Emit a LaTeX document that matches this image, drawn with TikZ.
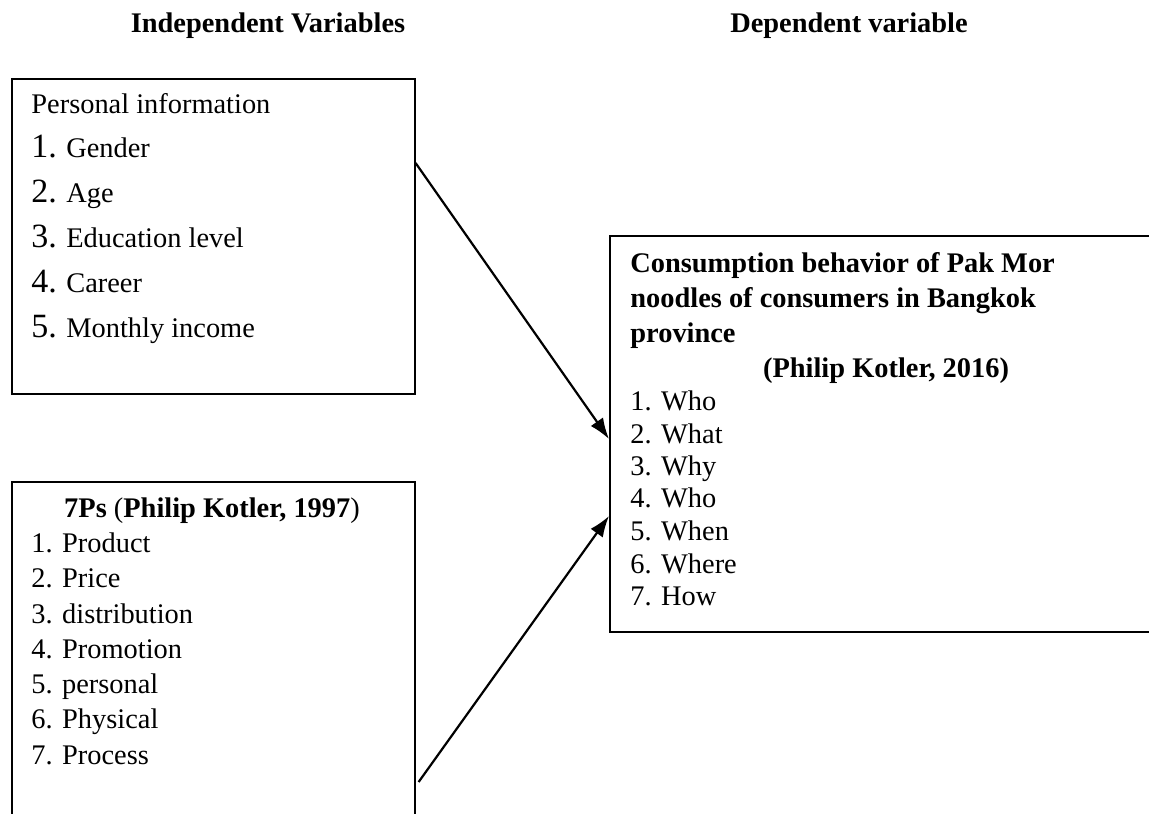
\documentclass[tikz,border=0pt]{standalone}
\usepackage{fontspec}
\setmainfont{Liberation Serif}
\usetikzlibrary{arrows.meta}
\tikzset{
	box/.style={draw,line width=0.8pt,inner sep=0pt,anchor=north west},
	txt/.style={anchor=base west,inner sep=0pt,font=\fontsize{14.2}{17}\selectfont},
	head/.style={anchor=base,inner sep=0pt,font=\fontsize{14.2}{17}\selectfont\bfseries},
	link/.style={-{Latex[length=10.5pt,width=7.5pt]},line width=1.1pt}
}
\newcommand{\bignum}[1]{{\fontsize{17}{17}\selectfont #1}}

\begin{document}
\begin{tikzpicture}[x=0.5pt,y=-0.5pt]
	\useasboundingbox(0,0)rectangle(1149,813);
	\clip(0,0)rectangle(1149,813);
	\node[head](indep)at(268,33){Independent Variables};
	\node[head](dep)at(849,33){Dependent variable};
	\node[box,minimum width=201.5pt,minimum height=157.5pt](pinfo)at(11,78){};
	\node[box,minimum width=201.5pt,minimum height=200pt](mix)at(11,481){};
	\node[box,minimum width=300pt,minimum height=198pt](behav)at(609,235){};
	\node[txt](pi0)at(31,113){Personal information};
	\node[txt](pi1)at(31,157){\bignum{1.} Gender};
	\node[txt](pi2)at(31,202){\bignum{2.} Age};
	\node[txt](pi3)at(31,247){\bignum{3.} Education level};
	\node[txt](pi4)at(31,292){\bignum{4.} Career};
	\node[txt](pi5)at(31,337){\bignum{5.} Monthly income};
	\node[head](ps0)at(212,517){7Ps \textmd{(}Philip Kotler, 1997\textmd{)}};
	\node[txt](ps1)at(31,552){1. Product};
	\node[txt](ps2)at(31,587){2. Price};
	\node[txt](ps3)at(31,623){3. distribution};
	\node[txt](ps4)at(31,658){4. Promotion};
	\node[txt](ps5)at(31,693){5. personal};
	\node[txt](ps6)at(31,728){6. Physical};
	\node[txt](ps7)at(31,764){7. Process};
	\node[txt,font=\fontsize{14.2}{17}\selectfont\bfseries](cb1)at(630,272){Consumption behavior of Pak Mor};
	\node[txt,font=\fontsize{14.2}{17}\selectfont\bfseries](cb2)at(630,307){noodles of consumers in Bangkok};
	\node[txt,font=\fontsize{14.2}{17}\selectfont\bfseries](cb3)at(630,342){province};
	\node[head](cb4)at(886,377){(Philip Kotler, 2016)};
	\node[txt](w1)at(630,410){1. Who};
	\node[txt](w2)at(630,443){2. What};
	\node[txt](w3)at(630,475){3. Why};
	\node[txt](w4)at(630,507){4. Who};
	\node[txt](w5)at(630,540){5. When};
	\node[txt](w6)at(630,573){6. Where};
	\node[txt](w7)at(630,605){7. How};
	\draw[link]([yshift=-42.5pt]pinfo.north east)--([yshift=-102pt]behav.north west);
	\draw[link]([xshift=1.5pt,yshift=-150.5pt]mix.north east)--([yshift=-140.5pt]behav.north west);
\end{tikzpicture}
\end{document}
